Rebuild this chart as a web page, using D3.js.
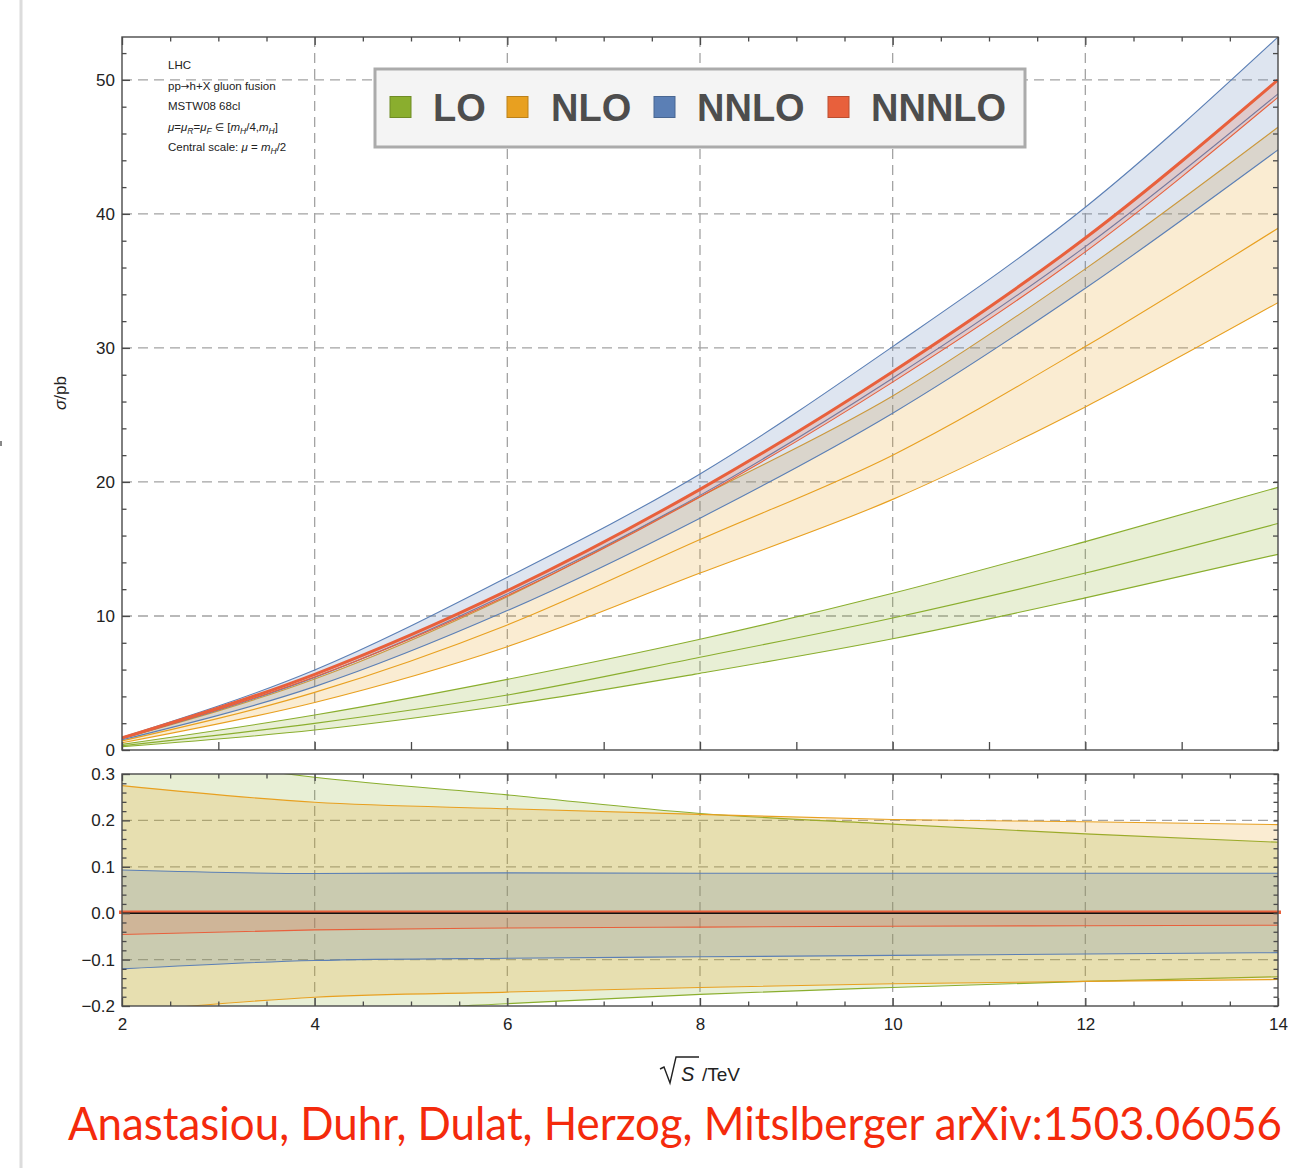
<!DOCTYPE html>
<html>
<head>
<meta charset="utf-8">
<script src="https://cdn.jsdelivr.net/npm/d3@7"></script>
<style>
body { margin: 0; background: #fff; }
svg text { font-family: "Liberation Sans", Arial, sans-serif; }
</style>
</head>
<body>
<svg width="1310" height="1168"></svg>
<script>
var sqrtS = [2, 4, 6, 8, 10, 12, 14];

// upper panel: sigma / pb
var loLow    = [0.25, 1.49, 3.36, 5.72, 8.30, 11.35, 14.6];
var loMid    = [0.32, 1.99, 4.10, 6.92, 9.85, 13.2, 16.9];
var loHigh   = [0.42, 2.61, 5.27, 8.26, 11.69, 15.55, 19.6];
var nloLow   = [0.54, 3.55, 7.71, 13.2, 18.7, 25.6, 33.38];
var nloMid   = [0.68, 4.30, 9.33, 15.7, 22.0, 30.1, 38.93];
var nloHigh  = [0.86, 5.30, 11.44, 18.9, 26.42, 35.9, 46.47];
var nnloLow  = [0.76, 4.73, 10.40, 17.3, 25.13, 34.45, 44.78];
var nnloMid  = [0.86, 5.42, 11.64, 19.0, 27.74, 37.56, 48.96];
var nnloHigh = [0.94, 5.97, 12.89, 20.6, 30.1, 40.5, 53.2];
var n3loLow  = [0.86, 5.45, 11.51, 18.88, 27.45, 37.17, 48.7];
var n3loMid  = [0.90, 5.65, 11.89, 19.45, 28.23, 38.2, 50.0];

// lower panel: relative scale variation
var loRelHigh   = [0.35, 0.293, 0.255, 0.215, 0.192, 0.171, 0.153];
var loRelLow    = [-0.245, -0.215, -0.195, -0.175, -0.16, -0.147, -0.137];
var nloRelHigh  = [0.275, 0.239, 0.225, 0.213, 0.202, 0.197, 0.191];
var nloRelLow   = [-0.213, -0.181, -0.17, -0.16, -0.152, -0.147, -0.143];
var nnloRelHigh = [0.093, 0.0856, 0.087, 0.086, 0.086, 0.086, 0.086];
var nnloRelLow  = [-0.12, -0.102, -0.097, -0.094, -0.091, -0.088, -0.085];
var n3loRelHigh = [0.002, 0.002, 0.002, 0.002, 0.002, 0.002, 0.002];
var n3loRelLow  = [-0.046, -0.036, -0.032, -0.03, -0.028, -0.027, -0.026];

var topTicks = [0, 10, 20, 30, 40, 50];
var botTicks = [-0.2, -0.1, 0.0, 0.1, 0.2, 0.3];
var xTicks = [2, 4, 6, 8, 10, 12, 14];
var legendNames = ['LO', 'NLO', 'NNLO', 'NNNLO'];
var colors = ['#8aae2e', '#e8a020', '#5b7fb5', '#e8603c'];

var svg = d3.select('svg');
var x = d3.scaleLinear().domain([2, 14]).range([122, 1278]);
var yTop = d3.scaleLinear().domain([0, 53.2]).range([750, 37]);
var yBot = d3.scaleLinear().domain([-0.2, 0.3]).range([1006, 774]);

// slide edge
svg.append('line').attr('x1', 21).attr('x2', 21).attr('y1', 0).attr('y2', 1168)
	.attr('stroke', '#dcdcdc').attr('stroke-width', 3);
svg.append('rect').attr('x', 0).attr('y', 441).attr('width', 2).attr('height', 5).attr('fill', '#888');

var defs = svg.append('defs');
defs.append('clipPath').attr('id', 'clipTop').append('rect')
	.attr('x', 122).attr('y', 37).attr('width', 1156).attr('height', 713);
defs.append('clipPath').attr('id', 'clipBot').append('rect')
	.attr('x', 122).attr('y', 774).attr('width', 1156).attr('height', 232);

var idx = d3.range(sqrtS.length);

var drawGrid = function(g, y, xs, ys, y0, y1){
	g.selectAll('.gx').data(xs).enter().append('line')
		.attr('x1', x).attr('x2', x).attr('y1', y0).attr('y2', y1);
	g.selectAll('.gy').data(ys).enter().append('line')
		.attr('x1', 122).attr('x2', 1278).attr('y1', y).attr('y2', y);
	g.selectAll('line').attr('stroke', '#a3a3a3').attr('stroke-width', 1.3)
		.attr('stroke-dasharray', '10,6');
};

// ---------- upper panel ----------
var gTop = svg.append('g');
drawGrid(gTop.append('g'), yTop, [4, 6, 8, 10, 12], [10, 20, 30, 40, 50], 37, 750);

var plotTop = gTop.append('g').attr('clip-path', 'url(#clipTop)');
var bandsTop = [
	{c: colors[0], lo: loLow, hi: loHigh, lines: [loLow, loMid, loHigh]},
	{c: colors[1], lo: nloLow, hi: nloHigh, lines: [nloLow, nloMid, nloHigh]},
	{c: colors[2], lo: nnloLow, hi: nnloHigh, lines: [nnloLow, nnloMid, nnloHigh]},
	{c: colors[3], lo: n3loLow, hi: n3loMid, lines: [n3loLow], thick: n3loMid}
];

var drawBands = function(g, y, bands){
	bands.forEach(function(b){
		var area = d3.area().curve(d3.curveMonotoneX)
			.x(function(i){ return x(sqrtS[i]); })
			.y0(function(i){ return y(b.lo[i]); })
			.y1(function(i){ return y(b.hi[i]); });
		g.append('path').datum(idx).attr('d', area)
			.attr('fill', b.c).attr('fill-opacity', 0.2).attr('stroke', 'none');
		b.lines.forEach(function(s){
			var line = d3.line().curve(d3.curveMonotoneX)
				.x(function(i){ return x(sqrtS[i]); })
				.y(function(i){ return y(s[i]); });
			g.append('path').datum(idx).attr('d', line)
				.attr('fill', 'none').attr('stroke', b.c).attr('stroke-width', 1.1);
		});
		if (b.thick) {
			var tl = d3.line().curve(d3.curveMonotoneX)
				.x(function(i){ return x(sqrtS[i]); })
				.y(function(i){ return y(b.thick[i]); });
			g.append('path').datum(idx).attr('d', tl)
				.attr('fill', 'none').attr('stroke', b.c).attr('stroke-width', 3);
		}
	});
};
drawBands(plotTop, yTop, bandsTop);

// ---------- lower panel ----------
var gBot = svg.append('g');
drawGrid(gBot.append('g'), yBot, [4, 6, 8, 10, 12], [-0.1, 0.1, 0.2], 774, 1006);
var plotBot = gBot.append('g').attr('clip-path', 'url(#clipBot)');
var bandsBot = [
	{c: colors[0], lo: loRelLow, hi: loRelHigh, lines: [loRelLow, loRelHigh]},
	{c: colors[1], lo: nloRelLow, hi: nloRelHigh, lines: [nloRelLow, nloRelHigh]},
	{c: colors[2], lo: nnloRelLow, hi: nnloRelHigh, lines: [nnloRelLow, nnloRelHigh]},
	{c: colors[3], lo: n3loRelLow, hi: n3loRelHigh, lines: [n3loRelLow]}
];
drawBands(plotBot, yBot, bandsBot);
gBot.append('line').attr('x1', x(2) - 3).attr('x2', x(14) + 3)
	.attr('y1', yBot(0.002)).attr('y2', yBot(0.002))
	.attr('stroke', colors[3]).attr('stroke-width', 3.5);
gBot.append('line').attr('x1', x(2)).attr('x2', x(14))
	.attr('y1', yBot(0)).attr('y2', yBot(0))
	.attr('stroke', '#111').attr('stroke-width', 1.4);

// ---------- frames and ticks ----------
[[37, 750], [774, 1006]].forEach(function(r){
	svg.append('rect').attr('x', 122).attr('y', r[0]).attr('width', 1156).attr('height', r[1] - r[0])
		.attr('fill', 'none').attr('stroke', '#4a4a4a').attr('stroke-width', 1.4);
});

var styleAxis = function(g){
	g.select('.domain').remove();
	g.selectAll('line').attr('stroke', '#4a4a4a').attr('stroke-width', 1.3);
	g.selectAll('text').attr('font-size', 17).attr('fill', '#222');
};
var addAxis = function(axis, tx, ty){
	svg.append('g').attr('transform', 'translate(' + tx + ',' + ty + ')').call(axis).call(styleAxis);
};

var halfSteps = d3.range(2, 14.01, 0.5);
var minorHalf = halfSteps.filter(function(v){ return v % 2 !== 0; });
var intSteps = d3.range(2, 14.01, 1);
var topMinor = d3.range(0, 53, 2).filter(function(v){ return v % 10 !== 0; });
var topAll = d3.range(0, 53, 2);
var botAll = d3.range(-10, 16).map(function(v){ return v * 0.02; });
var botMinor = d3.range(-10, 16).filter(function(v){ return v % 5 !== 0; }).map(function(v){ return v * 0.02; });

// upper left
addAxis(d3.axisLeft(yTop).tickValues(topTicks).tickSize(-8).tickPadding(7).tickFormat(d3.format('d')), 122, 0);
addAxis(d3.axisLeft(yTop).tickValues(topMinor).tickSize(-4.5).tickFormat(''), 122, 0);
// upper right
addAxis(d3.axisRight(yTop).tickValues(topAll).tickSize(-5).tickFormat(''), 1278, 0);
// upper top
addAxis(d3.axisTop(x).tickValues(xTicks).tickSize(-8).tickFormat(''), 0, 37);
addAxis(d3.axisTop(x).tickValues(minorHalf).tickSize(-4.5).tickFormat(''), 0, 37);
// upper bottom
addAxis(d3.axisBottom(x).tickValues(intSteps).tickSize(-8).tickFormat(''), 0, 750);

// lower left
addAxis(d3.axisLeft(yBot).tickValues(botTicks).tickSize(-8).tickPadding(7).tickFormat(d3.format('.1f')), 122, 0);
addAxis(d3.axisLeft(yBot).tickValues(botMinor).tickSize(-4.5).tickFormat(''), 122, 0);
// lower right
addAxis(d3.axisRight(yBot).tickValues(botAll).tickSize(-4.5).tickFormat(''), 1278, 0);
// lower top
addAxis(d3.axisTop(x).tickValues(xTicks).tickSize(-7).tickFormat(''), 0, 774);
addAxis(d3.axisTop(x).tickValues(minorHalf).tickSize(-4.5).tickFormat(''), 0, 774);
// lower bottom
addAxis(d3.axisBottom(x).tickValues(xTicks).tickSize(-8).tickPadding(12).tickFormat(d3.format('d')), 0, 1006);
addAxis(d3.axisBottom(x).tickValues(minorHalf).tickSize(-4.5).tickFormat(''), 0, 1006);

// ---------- axis labels ----------
var sig = svg.append('text').attr('transform', 'translate(66,393) rotate(-90)')
	.attr('text-anchor', 'middle').attr('font-size', 17).attr('fill', '#222');
sig.append('tspan').attr('font-style', 'italic').text('σ');
sig.append('tspan').text('/pb');

// radical sign drawn as a path, then S and /TeV
svg.append('path').attr('d', d3.line()([[660, 1069], [664, 1067], [670, 1083], [676, 1057], [699, 1057]]))
	.attr('fill', 'none').attr('stroke', '#222').attr('stroke-width', 1.4).attr('stroke-linejoin', 'miter');
svg.append('text').attr('x', 681).attr('y', 1081).attr('font-size', 20).attr('font-style', 'italic')
	.attr('fill', '#222').text('S');
svg.append('text').attr('x', 702).attr('y', 1081).attr('font-size', 19).attr('fill', '#222').text('/TeV');

// ---------- annotation ----------
var notes = [
	[['LHC', '']],
	[['pp', ''], ['→', 'a'], ['h+X gluon fusion', '']],
	[['MSTW08 68cl', '']],
	[['μ', 'i'], ['=', ''], ['μ', 'i'], ['R', 's'], ['=', ''], ['μ', 'i'], ['F', 's'], [' ', ''], ['∈', 'a'], [' [', ''],
	 ['m', 'i'], ['H', 's'], ['/4,', ''], ['m', 'i'], ['H', 's'], [']', '']],
	[['Central scale: ', ''], ['μ', 'i'], [' = ', ''], ['m', 'i'], ['H', 's'], ['/2', '']]
];
notes.forEach(function(parts, k){
	var t = svg.append('text').attr('x', 168).attr('y', 69 + k * 20.5)
		.attr('font-size', 11.5).attr('fill', '#222');
	var shifted = false;
	parts.forEach(function(p){
		var ts = t.append('tspan').text(p[0]);
		if (p[1] === 'i') ts.attr('font-style', 'italic');
		if (p[1] === 'a') ts.style('font-family', '"DejaVu Sans", sans-serif').attr('font-size', 10.5);
		if (p[1] === 's') {
			ts.attr('font-style', 'italic').attr('font-size', 8.5).attr('dy', 3);
			shifted = true;
		} else if (shifted) {
			ts.attr('dy', -3);
			shifted = false;
		}
	});
});

// ---------- legend ----------
var leg = svg.append('g');
leg.append('rect').attr('x', 375).attr('y', 69).attr('width', 650).attr('height', 78)
	.attr('fill', '#f4f4f4').attr('stroke', '#ababab').attr('stroke-width', 3);
var sqX = [390, 507, 654, 828];
var txX = [433, 551, 697, 871];
legendNames.forEach(function(n, i){
	leg.append('rect').attr('x', sqX[i]).attr('y', 96.5).attr('width', 21).attr('height', 21)
		.attr('fill', colors[i]).attr('stroke', d3.color(colors[i]).darker(0.6)).attr('stroke-width', 1);
	leg.append('text').attr('x', txX[i]).attr('y', 121).attr('font-size', 38).attr('font-weight', 'bold')
		.attr('fill', '#4d4d4d').text(n);
});

// ---------- citation ----------
svg.append('text').attr('x', 68).attr('y', 1140)
	.style('font-family', 'Lato, "Open Sans", sans-serif').attr('font-size', 46)
	.attr('fill', '#f42a0c').attr('textLength', 1214).attr('lengthAdjust', 'spacingAndGlyphs')
	.text('Anastasiou, Duhr, Dulat, Herzog, Mitslberger arXiv:1503.06056');
</script>
</body>
</html>
